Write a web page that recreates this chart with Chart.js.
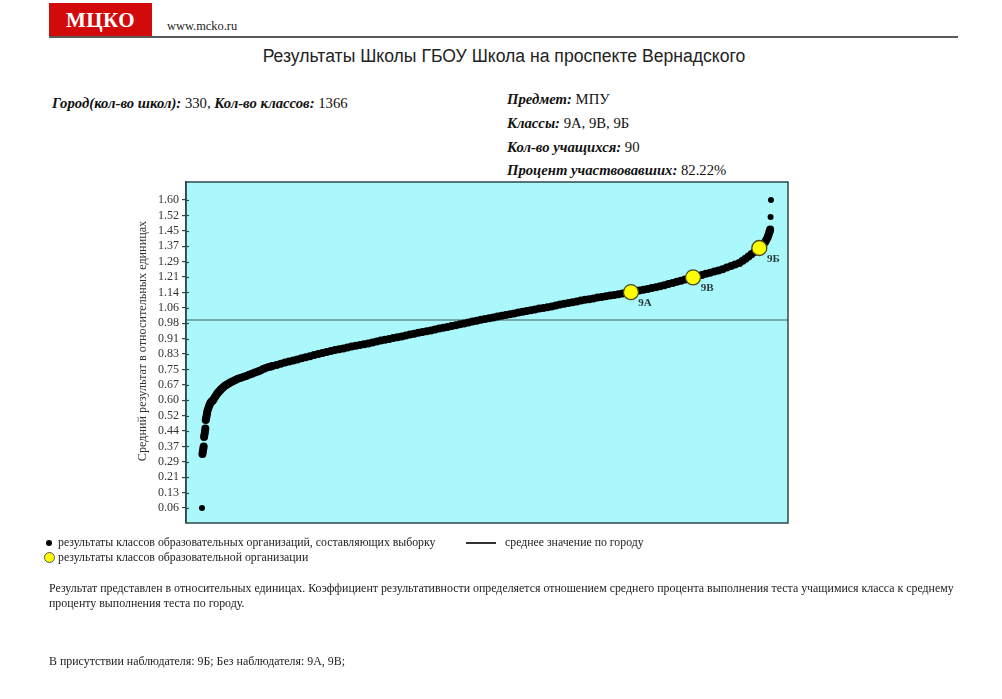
<!DOCTYPE html>
<html>
<head>
<meta charset="utf-8">
<script src="https://cdn.jsdelivr.net/npm/chart.js@4.4.1/dist/chart.umd.min.js"></script>
<style>
  html,body{margin:0;padding:0;background:#fff;}
  body{width:1002px;height:699px;position:relative;overflow:hidden;font-family:"Liberation Serif","DejaVu Serif",serif;color:#111;}
  .abs{position:absolute;white-space:nowrap;}
  #logo{left:49px;top:3px;width:103px;height:33px;background:#d20a0a;color:#fff;font:bold 21px "Liberation Serif",serif;text-align:center;line-height:34px;letter-spacing:0.5px;}
  #rule{left:49px;top:36px;width:909px;height:2px;background:#5a5a5a;}
  #site{left:167px;top:19px;font-size:12.4px;color:#222;}
  #title{left:0;width:1008px;top:46px;text-align:center;font:17.6px "Liberation Sans",Arial,sans-serif;color:#222;}
  .info{font-size:14.7px;color:#111;}
  .info b{font-style:italic;}
  .leg{font-size:11.8px;color:#222;}
  .note{font-size:11.9px;color:#222;}
  canvas{position:absolute;left:0;top:0;}
</style>
</head>
<body>
<div id="logo" class="abs">МЦКО</div>
<div id="site" class="abs">www.mcko.ru</div>
<div id="rule" class="abs"></div>
<div id="title" class="abs">Результаты Школы ГБОУ Школа на проспекте Вернадского</div>

<div class="abs info" style="left:52px;top:95px;"><b>Город(кол-во школ):</b> 330, <b>Кол-во классов:</b> 1366</div>
<div class="abs info" style="left:507px;top:91px;"><b>Предмет:</b> МПУ</div>
<div class="abs info" style="left:507px;top:115px;"><b>Классы:</b> 9А, 9В, 9Б</div>
<div class="abs info" style="left:507px;top:139px;"><b>Кол-во учащихся:</b> 90</div>
<div class="abs info" style="left:507px;top:162px;"><b>Процент участвовавших:</b> 82.22%</div>

<canvas id="c" width="1002" height="699"></canvas>

<div class="abs" style="left:46px;top:540px;width:6px;height:6px;border-radius:50%;background:#000;"></div>
<div class="abs leg" style="left:58px;top:535px;">результаты классов образовательных организаций, составляющих выборку</div>
<div class="abs" style="left:466px;top:542px;width:30px;height:1.5px;background:#333;"></div>
<div class="abs leg" style="left:505px;top:535px;">среднее значение по городу</div>
<div class="abs" style="left:44px;top:552px;width:9px;height:9px;border-radius:50%;background:#ffff00;border:1px solid #555;"></div>
<div class="abs leg" style="left:58px;top:550px;">результаты классов образовательной организации</div>

<div class="abs note" style="left:49px;top:581px;">Результат представлен в относительных единицах. Коэффициент результативности определяется отношением среднего процента выполнения теста учащимися класса к среднему</div>
<div class="abs note" style="left:49px;top:596px;">проценту выполнения теста по городу.</div>
<div class="abs note" style="left:49px;top:654px;">В присутствии наблюдателя: 9Б; Без наблюдателя: 9А, 9В;</div>

<script>
// ---------- DATA ----------
const totalClasses = 1366;
const cityMean = 1.0;
const yAxisTitle = 'Средний результат в относительных единицах';

const yTickLabels = ['0.06','0.13','0.21','0.29','0.37','0.44','0.52','0.60','0.67','0.75','0.83',
                     '0.91','0.98','1.06','1.14','1.21','1.29','1.37','1.45','1.52','1.60'];

// rank of class in the city (sorted by result)
const classRanks = [
  1,2,3,4,5,6,7,8,9,10,11,12,13,14,16,18,20,22,24,27,30,33,36,39,42,45,48,52,56,60,65,70,75,81,87,93,
  100,107,114,121,128,135,141,148,154,161,167,
  170,180,190,200,210,220,230,240,250,260,270,280,290,300,310,320,330,340,350,360,370,380,390,400,
  410,420,430,440,450,460,470,480,490,500,510,520,530,540,550,560,570,580,590,600,610,620,630,640,
  650,660,670,680,690,700,710,720,730,740,750,760,770,780,790,800,810,820,830,840,850,860,870,880,
  890,900,910,920,930,940,950,960,970,980,990,1000,1010,1020,1030,1040,1050,1060,1070,1080,1090,
  1100,1110,1120,1130,1140,1150,1160,1170,1180,1190,1200,1210,1220,1230,1240,1250,1260,1270,1280,1290,
  1298,1305,1312,1319,1326,1332,1338,1343,1348,1352,1355,1358,1360,1362,1363,1364,1365,1366
];
// relative result of the class
const classScores = [
  0.060,0.330,0.342,0.355,0.368,0.415,0.428,0.442,0.457,0.500,0.510,0.520,0.532,0.545,0.558,0.570,0.580,0.587,0.592,0.598,0.608,0.618,0.627,0.636,0.643,0.650,0.656,0.664,0.671,0.676,0.683,0.689,0.694,0.700,0.706,0.710,
  0.715,0.720,0.726,0.731,0.737,0.743,0.748,0.755,0.760,0.765,0.768,
  0.770,0.775,0.781,0.787,0.793,0.798,0.803,0.809,0.814,0.819,0.825,0.830,0.835,0.840,0.845,0.850,0.854,0.858,0.863,0.867,0.871,0.875,0.879,0.883,
  0.888,0.892,0.897,0.901,0.905,0.910,0.914,0.918,0.923,0.927,0.931,0.936,0.940,0.944,0.948,0.953,0.957,0.961,0.965,0.970,0.974,0.979,0.983,0.988,
  0.992,0.996,1.001,1.005,1.009,1.013,1.017,1.021,1.025,1.029,1.033,1.037,1.041,1.045,1.049,1.053,1.057,1.060,1.064,1.068,1.073,1.077,1.081,1.085,
  1.089,1.093,1.097,1.101,1.104,1.108,1.112,1.115,1.119,1.122,1.125,1.129,1.132,1.136,1.139,1.143,1.147,1.151,1.155,1.160,1.164,
  1.169,1.174,1.180,1.185,1.191,1.196,1.202,1.207,1.213,1.219,1.225,1.231,1.236,1.242,1.248,1.254,1.262,1.270,1.278,1.285,
  1.296,1.306,1.318,1.329,1.340,1.349,1.358,1.368,1.379,1.390,1.401,1.414,1.425,1.437,1.445,1.452,1.515,1.600
];

// classes of the school
const schoolClasses = ['9А','9В','9Б'];
const schoolRanks   = [1030, 1179, 1338];
const schoolScores  = [1.139, 1.213, 1.360];

// ---------- CHART ----------
const cityPoints = classRanks.map((r,i)=>({x:r, y:classScores[i]}));
const schoolPoints = schoolRanks.map((r,i)=>({x:r, y:schoolScores[i]}));

const Y_MIN = -0.015, Y_MAX = 1.69;
const X_MIN = -37.4, X_MAX = 1406.8;
const FRAME = '#2e4848';

const framePlugin = {
  id:'frame',
  beforeDraw(chart){
    const {ctx, chartArea:a} = chart;
    ctx.save();
    ctx.fillStyle = '#aaf8fc';
    ctx.fillRect(a.left, a.top, a.right-a.left, a.bottom-a.top);
    ctx.restore();
  },
  afterDraw(chart){
    const {ctx, chartArea:a} = chart;
    const ys = chart.scales.y;
    ctx.save();
    ctx.strokeStyle = FRAME;
    ctx.lineWidth = 1.5;
    ctx.strokeRect(a.left, a.top, a.right-a.left, a.bottom-a.top);
    ctx.lineWidth = 1.2;
    ys.ticks.forEach(t=>{
      const y = Math.round(ys.getPixelForValue(t.value))+0.5;
      ctx.beginPath(); ctx.moveTo(a.left, y); ctx.lineTo(a.left+3, y); ctx.stroke();
    });
    // axis title
    ctx.fillStyle = '#333';
    ctx.font = '12.2px "Liberation Serif", serif';
    ctx.textAlign = 'center';
    ctx.textBaseline = 'middle';
    ctx.save();
    ctx.translate(143, 341);
    ctx.rotate(-Math.PI/2);
    ctx.fillText(yAxisTitle, 0, 0);
    ctx.restore();
    // labels of school classes
    const xs = chart.scales.x;
    ctx.fillStyle = '#2a3a3a';
    ctx.font = 'bold 11px "Liberation Serif", serif';
    schoolClasses.forEach((name,i)=>{
      const px = xs.getPixelForValue(schoolRanks[i]);
      const py = ys.getPixelForValue(schoolScores[i]);
      ctx.fillText(name, px+14, py+11);
    });
    ctx.restore();
  }
};

new Chart(document.getElementById('c'), {
  type:'scatter',
  data:{
    datasets:[
      { label:'school', data:schoolPoints, order:0,
        pointRadius:7.5, pointBackgroundColor:'#ffff00', pointBorderColor:'#4a4a2a', pointBorderWidth:1.3, showLine:false },
      { label:'city', data:cityPoints, order:1,
        pointRadius:(c)=> (c.dataIndex===0 || c.dataIndex>=classRanks.length-2) ? 3 : 4,
        pointBackgroundColor:'#000', pointBorderWidth:0, showLine:false },
      { label:'mean', type:'line', data:[{x:X_MIN,y:cityMean},{x:X_MAX,y:cityMean}], order:2,
        borderColor:'#3b5a5a', borderWidth:1.2, pointRadius:0, fill:false }
    ]
  },
  options:{
    responsive:false, animation:false, devicePixelRatio:1,
    layout:{padding:{left:132, top:182, right:214, bottom:176}},
    plugins:{legend:{display:false}, tooltip:{enabled:false}},
    scales:{
      x:{type:'linear', display:false, min:X_MIN, max:X_MAX},
      y:{type:'linear', min:Y_MIN, max:Y_MAX,
        afterFit(s){ s.width = 54; },
        afterBuildTicks(s){
          const lo = 0.06, hi = 1.60, n = yTickLabels.length-1;
          s.ticks = yTickLabels.map((l,i)=>({value: lo + i*(hi-lo)/n}));
        },
        ticks:{ autoSkip:false, padding:3, color:'#333',
          font:{family:'"Liberation Serif", serif', size:12},
          callback:(v,i)=>yTickLabels[i] },
        grid:{ drawOnChartArea:false, drawTicks:true, tickLength:4, color:FRAME, lineWidth:1.2 },
        border:{ display:true, color:FRAME, width:1.5 },
        title:{ display:false }
      }
    }
  },
  plugins:[framePlugin]
});
</script>
</body>
</html>
